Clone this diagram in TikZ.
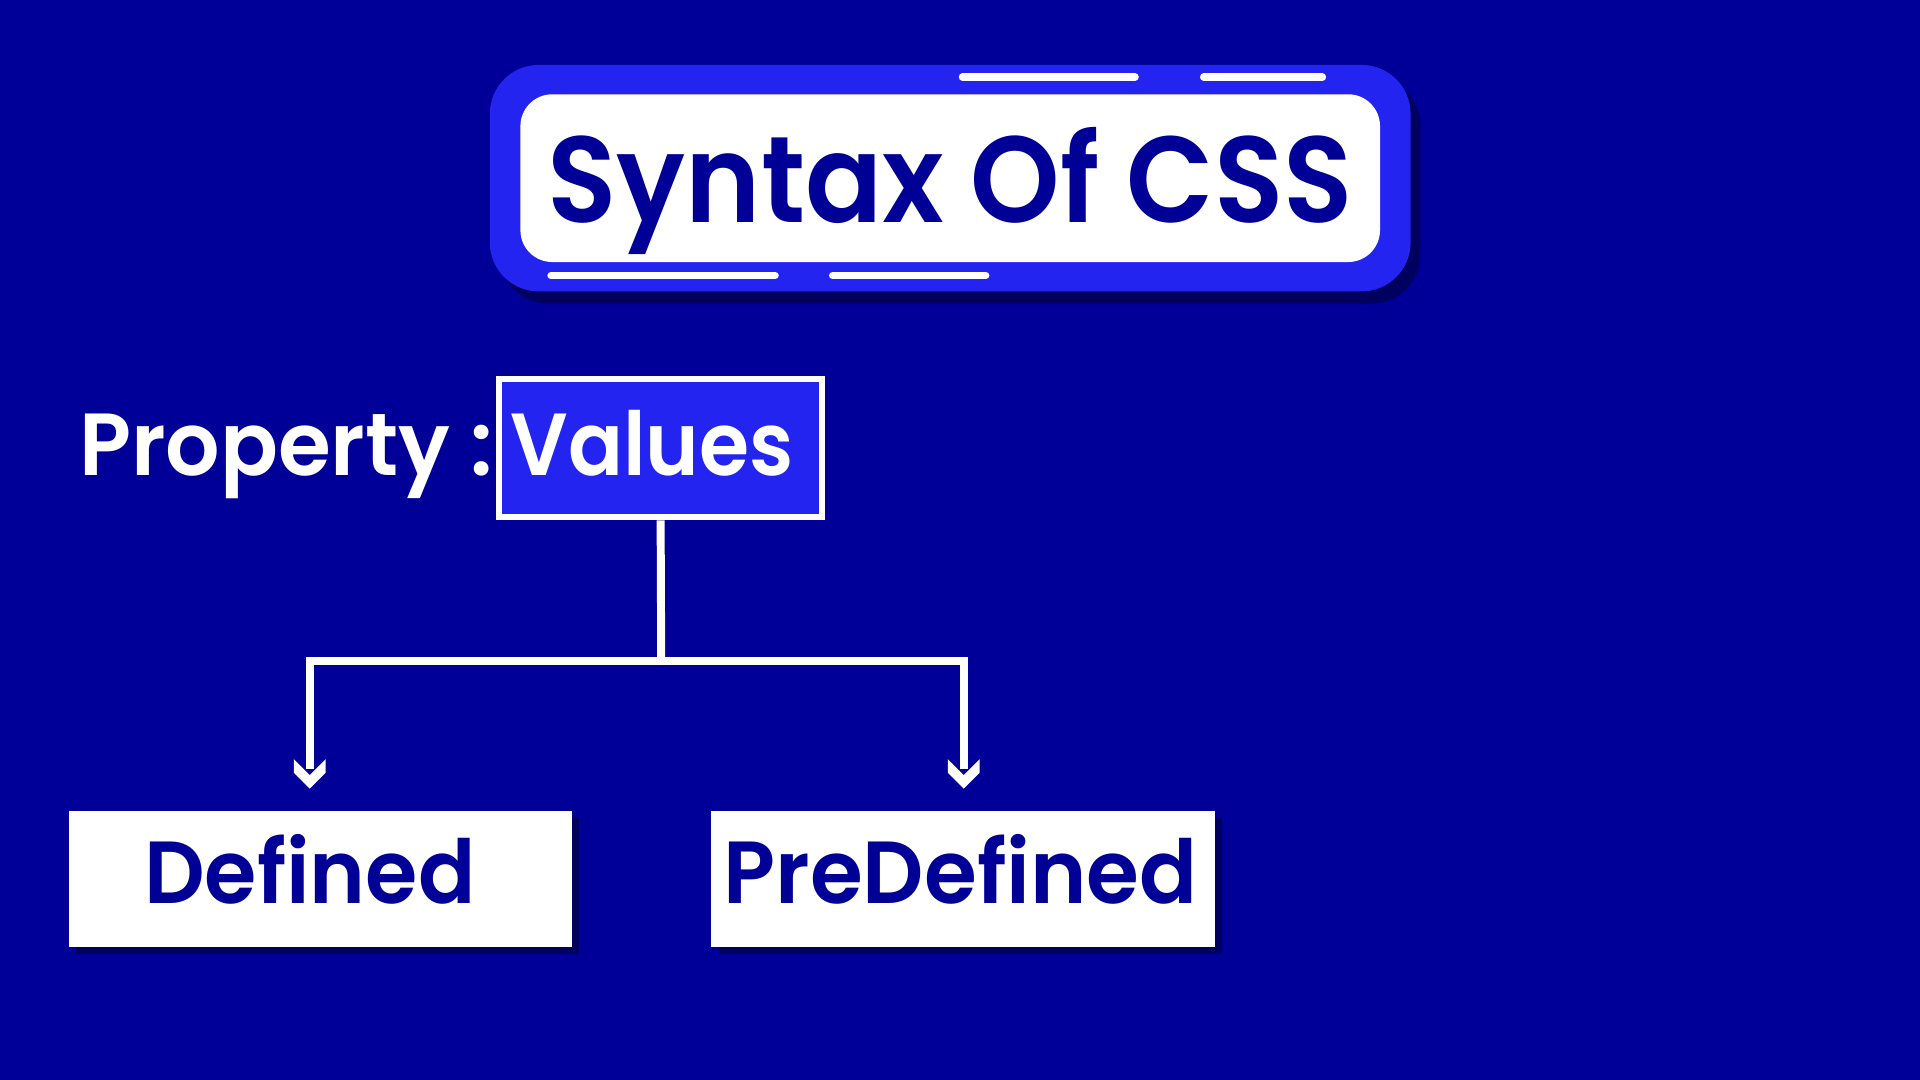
\documentclass[tikz,border=0pt]{standalone}
\usepackage{fontspec}
\setmainfont{Poppins}[BoldFont={* SemiBold}]
\usetikzlibrary{arrows.meta,calc}
\definecolor{bg}{RGB}{0,0,153}
\definecolor{bright}{RGB}{36,36,240}
\definecolor{ink}{RGB}{0,0,150}
\definecolor{shade}{RGB}{0,0,95}
\tikzset{
  pill/.style={draw=white,line width=6pt,line cap=round},
  conn/.style={draw=white,line width=6.5pt},
  headshape/.style={fill=white},
  bigtext/.style={font=\fontsize{72}{72}\selectfont\bfseries},
  whitebox/.style={fill=white,minimum width=411pt,minimum height=111pt,inner sep=0pt,bigtext,text=ink,text height=41pt,text depth=0pt},
  boxshadow/.style={fill=shade,minimum width=411pt,minimum height=111pt,inner sep=0pt}
}
\begin{document}
\begin{tikzpicture}[x=1pt,y=-1pt]
\path[fill=bg,use as bounding box] (0,0) rectangle (1568,882);
% title
\node[fill=shade,rounded corners=40pt,minimum width=752pt,minimum height=185pt] (Tsh) at (784,155.5) {};
\node[fill=bright,rounded corners=40pt,minimum width=752pt,minimum height=185pt] (T) at (776,145.5) {};
\node[fill=white,rounded corners=26pt,minimum width=702pt,minimum height=137pt,text=ink,font=\fontsize{100}{100}\selectfont\bfseries,text height=73pt,text depth=0pt] (Ti) at (776,145.5) {\scalebox{0.93}[1]{Syntax Of CSS}};
\draw[pill] (786,63) coordinate (p1) -- (927,63) coordinate (p2);
\draw[pill] (983,63) coordinate (p3) -- (1080,63) coordinate (p4);
\draw[pill] (450,225) coordinate (p5) -- (633,225) coordinate (p6);
\draw[pill] (680,225) coordinate (p7) -- (805,225) coordinate (p8);
% property : values
\node[anchor=base east,text=white,bigtext,inner sep=0pt] (P) at (403,388) {\scalebox{0.97}[1]{Property :}};
\node[draw=white,line width=5pt,fill=bright,minimum width=264pt,minimum height=113pt,inner sep=0pt,text=white,bigtext,text height=44pt,text depth=0pt] (V) at (539.5,366) {\kern-14pt\scalebox{0.92}[1]{Values}};
% boxes
\node[boxshadow] at (267.5,723.5) {};
\node[boxshadow] at (792.5,723.5) {};
\node[whitebox] (D) at (261.5,717.5) {\kern-17pt\scalebox{0.96}[1]{Defined}};
\node[whitebox] (PD) at (786.5,717.5) {\kern-4pt\scalebox{0.97}[1]{PreDefined}};
% connectors
\coordinate (J) at (540,540);
\coordinate (aL) at (253,644);
\coordinate (aR) at (787,644);
\draw[conn] (V.south) -- (J);
\draw[conn] (J) -| ([yshift=16pt]aL);
\draw[conn] (J) -| ([yshift=16pt]aR);
\foreach \t in {aL,aR}
  \fill[headshape] (\t) -- ++(13,-13) -- ++(0,-11) -- ++(-13,13) -- ++(-13,-13) -- ++(0,11) -- cycle;
\end{tikzpicture}
\end{document}
